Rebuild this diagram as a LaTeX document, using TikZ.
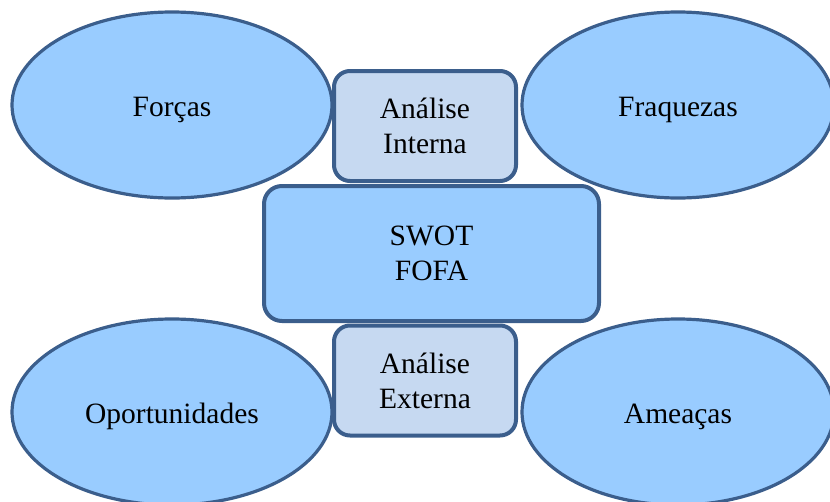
\documentclass[tikz,border=0pt]{standalone}
\usepackage{fontspec}
\setmainfont{Liberation Serif}
\usetikzlibrary{shapes.geometric}
\definecolor{ellfill}{HTML}{99CCFF}
\definecolor{boxfill}{HTML}{C6D9F1}
\definecolor{edge}{HTML}{3B5E8C}
\tikzset{
  oval/.style={ellipse, draw=edge, fill=ellfill, line width=3.2pt, inner sep=0pt,
    minimum width=320pt, minimum height=186pt, text height=22pt, text depth=0pt,
    font=\fontsize{29.5}{35}\selectfont},
  smallbox/.style={rectangle, rounded corners=16pt, draw=edge, fill=boxfill, line width=4pt,
    minimum width=182pt, minimum height=110pt, align=center, inner sep=0pt,
    font=\fontsize{29.5}{35}\selectfont},
  bigbox/.style={rectangle, rounded corners=18pt, draw=edge, fill=ellfill, line width=4pt,
    minimum width=335pt, minimum height=135pt, align=center, inner sep=0pt,
    font=\fontsize{29.5}{35}\selectfont}
}
\begin{document}
\begin{tikzpicture}[x=1pt,y=-1pt]
\useasboundingbox (0,0) rectangle (830,501);
\node[oval] (forcas) at (172,105) {Forças};
\node[oval, minimum width=312pt] (fraq) at (678,105) {Fraquezas};
\node[oval] (oport) at (172,412) {Oportunidades};
\node[oval, minimum width=312pt] (ameac) at (678,412) {Ameaças};
\node[bigbox] (swot) at (431.5,253.5) {SWOT\\FOFA};
\node[smallbox] (aint) at (425,126) {Análise\\Interna};
\node[smallbox] (aext) at (425,380.5) {Análise\\Externa};
\end{tikzpicture}
\end{document}
